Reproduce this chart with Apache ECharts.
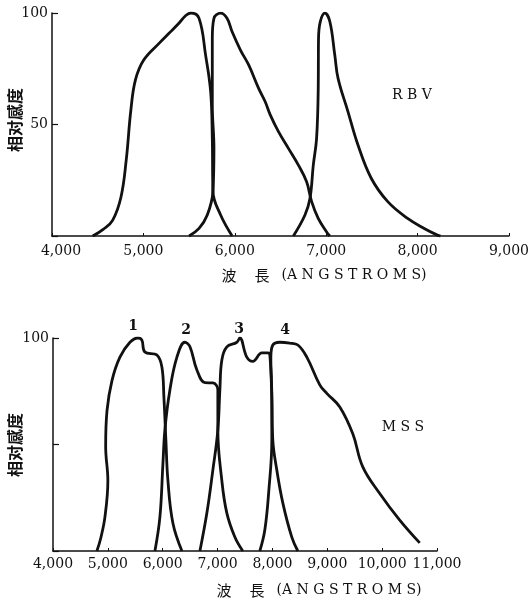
<!DOCTYPE html>
<html>
<head>
<meta charset="utf-8">
<script src="https://cdn.jsdelivr.net/npm/echarts@6/dist/echarts.min.js"></script>
<style>
  html, body { margin: 0; padding: 0; background: #fff; }
  #chart { width: 532px; height: 604px; }
</style>
</head>
<body>
<div id="chart"></div>
<script>
  // 波长刻度
  const rbvTicks = [4000, 5000, 6000, 7000, 8000, 9000];
  const mssTicks = [4000, 5000, 6000, 7000, 8000, 9000, 10000, 11000];

  // RBV 三个波段 [波长, 相对感度]
  const rbvBand1 = [[4446, 0], [4560, 3], [4663, 7], [4755, 17.5], [4812, 34], [4863, 56.5], [4913, 70], [5005, 79],
    [5174, 86.5], [5283, 91], [5391, 95.5], [5467, 99], [5520, 100], [5609, 97.6], [5681, 81], [5736, 64.7],
    [5754, 43.8], [5761, 19.9], [5845, 9.4], [5971, 0]];
  const rbvBand2 = [[5500, 0], [5609, 3.4], [5699, 9.4], [5761, 19.9], [5772, 39.3], [5754, 58.7], [5754, 88.6],
    [5772, 97.6], [5845, 99.9], [5915, 97.6], [5971, 91.6], [6062, 83.4], [6152, 76.7], [6261, 66.2],
    [6333, 60.2], [6388, 54.3], [6478, 46.8], [6587, 39.3], [6696, 31.8], [6786, 24.3], [6841, 15.4],
    [6913, 7.9], [7003, 1.9], [7040, 0]];
  const rbvBand3 = [[6641, 0], [6768, 9.4], [6823, 16.9], [6859, 31.8], [6895, 43.8], [6913, 66.2], [6916, 88],
    [6935, 96], [6986, 99.9], [7040, 96.2], [7094, 81.2], [7130, 70.7], [7239, 55.7], [7348, 40.8],
    [7493, 25.9], [7674, 15.4], [7891, 7.9], [8073, 3.4], [8217, 0.4], [8250, 0]];

  // MSS 四个波段
  const mssBand1 = [[4800, 0], [4870, 6], [4947, 16], [5000, 33], [4960, 49], [4985, 66], [5075, 80], [5220, 91],
    [5403, 98], [5548, 100], [5620, 99], [5675, 93.4], [5894, 92], [5985, 86.4], [6022, 72], [6058, 52],
    [6095, 33], [6186, 13], [6350, 0]];
  const mssBand2 = [[5858, 0], [5949, 16], [6004, 41], [6040, 57], [6131, 75.6], [6259, 91], [6404, 98],
    [6495, 96], [6623, 85], [6769, 79], [6914, 78.9], [7005, 75.6], [7005, 56.8], [7078, 33], [7169, 17.8],
    [7315, 6.6], [7460, 0]];
  const mssBand3 = [[6678, 0], [6805, 17.8], [6914, 38], [7005, 56.8], [7042, 75.6], [7078, 89.7], [7169, 95.8],
    [7351, 98], [7406, 100], [7533, 91], [7643, 89], [7807, 93], [7916, 93], [7953, 92], [7989, 72],
    [8007, 52], [8080, 38], [8190, 22.5], [8353, 6.5], [8463, 0]];
  const mssBand4 = [[7770, 0], [7862, 10], [7935, 28.6], [7989, 52], [7989, 72], [7971, 91], [8007, 96.7],
    [8135, 98], [8317, 97.6], [8463, 96.7], [8627, 91], [8863, 78], [8991, 74], [9228, 67.6], [9465, 55],
    [9647, 39.5], [9956, 27], [10320, 14.5], [10685, 3.8]];

  const serif = '"DejaVu Serif", "Noto Sans CJK SC", serif';
  const cjk = '"Noto Sans CJK TC", "Noto Sans CJK SC", sans-serif';

  function fmt(v) {
    return String(v).replace(/\B(?=(\d{3})+(?!\d))/g, ',');
  }

  function xAxisOf(idx, ticks) {
    return {
      gridIndex: idx,
      type: 'value',
      min: ticks[0],
      max: ticks[ticks.length - 1],
      interval: 1000,
      splitLine: {show: false},
      axisLine: {lineStyle: {color: '#111', width: 1.5}},
      axisTick: {inside: true, length: 3, lineStyle: {color: '#111'}},
      axisLabel: {
        color: '#111',
        fontFamily: serif,
        fontSize: 14,
        margin: idx === 0 ? 8 : 6,
        formatter: function (v) {
          if (idx === 0 && v === ticks[0]) return '{first|' + fmt(v) + '}';
          return fmt(v);
        },
        rich: {first: {fontFamily: serif, fontSize: 14, color: '#111', padding: [0, 0, 0, 18]}}
      }
    };
  }

  function yAxisOf(idx, labels) {
    return {
      gridIndex: idx,
      type: 'value',
      min: 0,
      max: 100,
      interval: 50,
      splitLine: {show: false},
      axisLine: {lineStyle: {color: '#111', width: 1.5}},
      axisTick: {inside: true, length: 6, lineStyle: {color: '#111', width: 1.2}},
      axisLabel: {
        color: '#111',
        fontFamily: serif,
        fontSize: 14,
        margin: 4,
        formatter: function (v) {
          return labels.indexOf(v) >= 0 ? String(v) : '';
        }
      }
    };
  }

  function band(data, idx) {
    return {
      type: 'line',
      xAxisIndex: idx,
      yAxisIndex: idx,
      data: data,
      smooth: 0.4,
      showSymbol: false,
      silent: true,
      lineStyle: {color: '#111', width: 2.8},
      animation: false
    };
  }

  function txt(x, y, text, size, font, bold, rot) {
    return {
      type: 'text',
      x: x,
      y: y,
      rotation: rot || 0,
      style: {
        text: text,
        fill: '#111',
        font: (bold ? 'bold ' : '') + size + 'px ' + font,
        textAlign: 'center',
        textVerticalAlign: 'middle'
      }
    };
  }

  let chart = echarts.init(document.getElementById('chart'));
  chart.setOption({
    backgroundColor: '#fff',
    animation: false,
    grid: [
      {left: 52, top: 13, width: 460, height: 223},
      {left: 53, top: 338, width: 384, height: 213}
    ],
    xAxis: [xAxisOf(0, rbvTicks), xAxisOf(1, mssTicks)],
    yAxis: [yAxisOf(0, [50, 100]), yAxisOf(1, [100])],
    series: [
      band(rbvBand1, 0), band(rbvBand2, 0), band(rbvBand3, 0),
      band(mssBand1, 1), band(mssBand2, 1), band(mssBand3, 1), band(mssBand4, 1)
    ],
    graphic: [
      // 纵轴名称
      txt(15, 120, '相对感度', 16, cjk, true, Math.PI / 2),
      txt(15, 445, '相对感度', 16, cjk, true, Math.PI / 2),
      // 横轴名称
      txt(229, 275, '波', 15, cjk, false),
      txt(262, 275, '長', 15, cjk, false),
      txt(354, 275, '(A N G S T R O M S)', 14, serif, false),
      txt(224, 590, '波', 15, cjk, false),
      txt(257, 590, '長', 15, cjk, false),
      txt(349, 590, '(A N G S T R O M S)', 14, serif, false),
      // 图注
      txt(412, 95, 'R B V', 14, serif, false),
      txt(403, 427, 'M S S', 14, serif, false),
      txt(133, 326, '1', 14, serif, true),
      txt(186, 330, '2', 14, serif, true),
      txt(239, 329, '3', 14, serif, true),
      txt(285, 330, '4', 14, serif, true)
    ]
  });
</script>
</body>
</html>
